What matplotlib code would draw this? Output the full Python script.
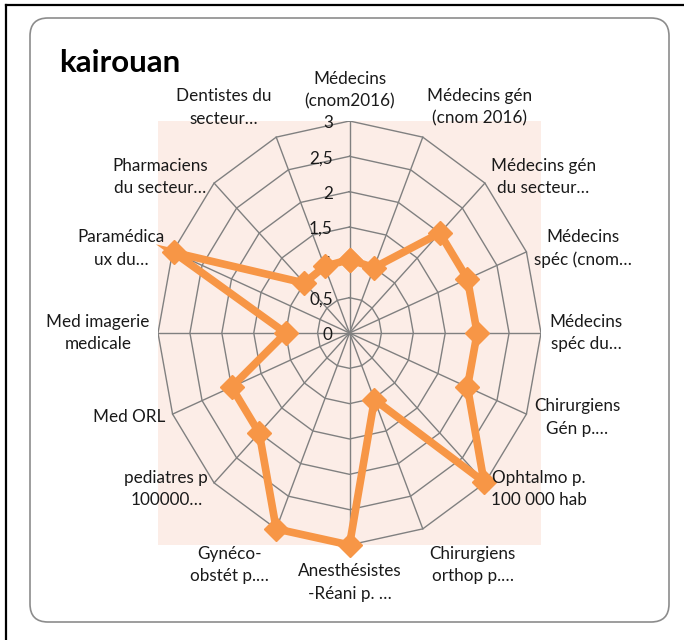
import numpy as np
import matplotlib.pyplot as plt
from matplotlib.patches import FancyBboxPatch
from matplotlib.lines import Line2D

plt.rcParams['font.family'] = ['Lato', 'DejaVu Sans']

titre = "kairouan"
categories = ["Médecins\n(cnom2016)", "Médecins gén\n(cnom 2016)", "Médecins gén\ndu secteur…",
              "Médecins\nspéc (cnom…", "Médecins\nspéc du…", "Chirurgiens\nGén p.…",
              "Ophtalmo p.\n100 000 hab", "Chirurgiens\northop p.…", "Anesthésistes\n-Réani p. …",
              "Gynéco-\nobstét p.…", "pediatres p\n100000…", "Med ORL",
              "Med imagerie\nmedicale", "Paramédica\nux du…", "Pharmaciens\ndu secteur…",
              "Dentistes du\nsecteur…"]
valeurs = [1.04, 1.0, 2.0, 2.0, 2.0, 2.0, 2.98, 1.02, 3.0, 3.0, 2.0, 2.0, 1.0, 2.98, 1.0, 1.02]
niveaux = [0.5, 1.0, 1.5, 2.0, 2.5, 3.0]
etiquettes_niveaux = ["0", "0,5", "1", "1,5", "2", "2,5", "3"]

couleur_serie = '#F79646'
couleur_grille = '#808080'
fond = '#FCEDE7'

W, H = 684, 640
fig = plt.figure(figsize=(W / 100, H / 100), dpi=100)
fig.patch.set_facecolor('white')

# zone du radar (le fond rose = les limites -3..3)
x0, x1, y0, y1 = 158, 541, 121, 545
ax = fig.add_axes([x0 / W, 1 - y1 / H, (x1 - x0) / W, (y1 - y0) / H])
ax.set_facecolor(fond)
ax.set_xlim(-3, 3)
ax.set_ylim(-3, 3)
for s in ax.spines.values():
    s.set_visible(False)
ax.set_xticks([])
ax.set_yticks([])

n = len(categories)
angles = np.arange(n) * 2 * np.pi / n
sx, sy = np.sin(angles), np.cos(angles)

# toile
for lv in niveaux:
    ax.plot(np.append(lv * sx, lv * sx[0]), np.append(lv * sy, lv * sy[0]),
            color=couleur_grille, lw=1.0, zorder=1)
for i in range(n):
    ax.plot([0, 3 * sx[i]], [0, 3 * sy[i]], color=couleur_grille, lw=1.0, zorder=1)

# etiquettes de l'axe
for k, lab in enumerate(etiquettes_niveaux):
    ax.annotate(lab, (0, k * 0.5), xytext=(-12, -1.5), textcoords='offset points',
                ha='right', va='center', fontsize=12.3, color='#1a1a1a', zorder=2)

# serie
v = np.array(valeurs)
px = v * sx
py = v * sy
ax.plot(np.append(px, px[0]), np.append(py, py[0]), color=couleur_serie,
        lw=5.5, marker='D', markersize=12, solid_joinstyle='miter', zorder=3, clip_on=False)

# categories
for i, lab in enumerate(categories):
    if sx[i] > 0.3:
        ha = 'left'
    elif sx[i] < -0.3:
        ha = 'right'
    else:
        ha = 'center'
    if sy[i] > 0.9:
        va, gap = 'bottom', 8
    elif sy[i] < -0.9:
        va, gap = 'top', 13
    else:
        va, gap = 'center', 6
    ax.annotate(lab, (3 * sx[i], 3 * sy[i]), xytext=(gap * sx[i], gap * sy[i]),
                textcoords='offset points', ha=ha, va=va, multialignment='center',
                fontsize=12.3, color='#1a1a1a', linespacing=1.5, annotation_clip=False)

# titre et cadres
fig.text(59 / W, 1 - 72 / H, titre, fontsize=22.5, fontweight='bold', ha='left', va='baseline')
cadre = FancyBboxPatch((0.30, 0.18), 6.39, 6.04, boxstyle='round,pad=0,rounding_size=0.18',
                       transform=fig.dpi_scale_trans, facecolor='none', edgecolor='#8C8C8C', lw=1.2)
fig.patches.append(cadre)
fig.lines.append(Line2D([0.06, 6.84], [6.35, 6.35], transform=fig.dpi_scale_trans, color='black', lw=1.6))
fig.lines.append(Line2D([0.06, 0.06], [0, 6.35], transform=fig.dpi_scale_trans, color='black', lw=1.6))

fig.savefig('out.png', dpi=100)
